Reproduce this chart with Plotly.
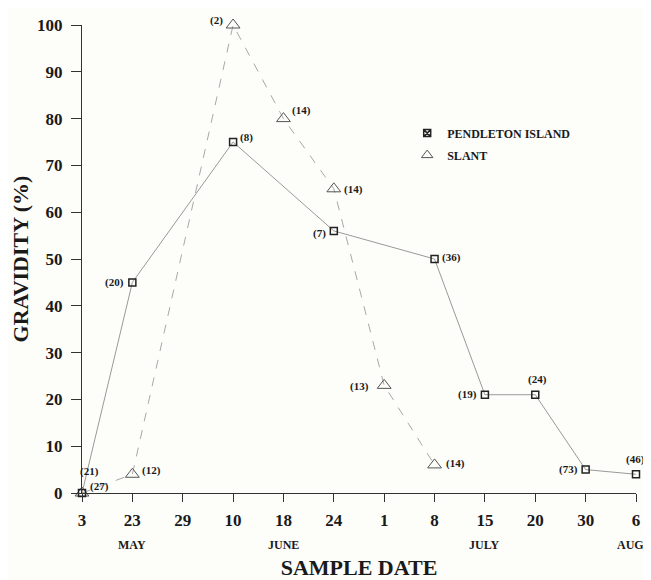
import plotly.graph_objects as go

# ---- data ----
date_labels = ["3", "23", "29", "10", "18", "24", "1", "8", "15", "20", "30", "6"]
month_labels = ["MAY", "JUNE", "JULY", "AUG."]
month_at = ["23", "18", "15", "6"]

pend_dates = ["3", "23", "10", "24", "8", "15", "20", "30", "6"]
pend_values = [0, 45, 75, 56, 50, 21, 21, 5, 4]
pend_counts = [21, 20, 8, 7, 36, 19, 24, 73, 46]

slant_dates = ["3", "23", "10", "18", "24", "1", "8"]
slant_values = [0, 4, 100, 80, 65, 23, 6]
slant_counts = [27, 12, 2, 14, 14, 13, 14]

y_ticks = [0, 10, 20, 30, 40, 50, 60, 70, 80, 90, 100]

# ---- style / layout helpers ----
pos = {d: i for i, d in enumerate(date_labels)}
SERIF = "Liberation Serif, Times New Roman, serif"
INK = "#1a1a1a"

# label offsets (px) for sample-size annotations: (xshift, yshift, xanchor)
pend_lab = [(7, 22, "center"), (-6, 0, "right"), (5, 5, "left"), (-6, -3, "right"),
            (5, 2, "left"), (-6, 0, "right"), (2, 15, "center"), (-6, 0, "right"),
            (-1, 15, "center")]
slant_lab = [(6, 7, "left"), (8, 4, "left"), (-8, 5, "right"), (7, 8, "left"),
             (8, -1, "left"), (-13, -1, "right"), (9, 1, "left")]

fig = go.Figure()

fig.add_trace(go.Scatter(
    x=[pos[d] for d in slant_dates], y=slant_values, mode="lines+markers",
    line=dict(color="#a8a8a8", width=1, dash="dash"),
    marker=dict(symbol="triangle-up-open", size=12, color="#555555", line=dict(width=1)),
    showlegend=False, cliponaxis=False))

fig.add_trace(go.Scatter(
    x=[pos[d] for d in pend_dates], y=pend_values, mode="lines+markers",
    line=dict(color="#999999", width=1),
    marker=dict(symbol="square-open", size=7, color="#222222", line=dict(width=1.5)),
    showlegend=False, cliponaxis=False))

# legend entries
fig.add_trace(go.Scatter(x=[None], y=[None], mode="markers", name="PENDLETON ISLAND",
                         legendgroup="p",
                         marker=dict(symbol="square-x-open", size=7, color="#222222",
                                     line=dict(width=1.5))))
fig.add_trace(go.Scatter(x=[None], y=[None], mode="markers", name="SLANT",
                         legendgroup="s",
                         marker=dict(symbol="triangle-up-open", size=10, color="#555555",
                                     line=dict(width=1))))

ann = []
for d, v, c, (dx, dy, xa) in zip(pend_dates, pend_values, pend_counts, pend_lab):
    ann.append(dict(x=pos[d], y=v, xref="x", yref="y", text=f"({c})", showarrow=False,
                    xshift=dx, yshift=dy, xanchor=xa,
                    font=dict(family=SERIF, size=11, color=INK, weight="bold")))
for d, v, c, (dx, dy, xa) in zip(slant_dates, slant_values, slant_counts, slant_lab):
    ann.append(dict(x=pos[d], y=v, xref="x", yref="y", text=f"({c})", showarrow=False,
                    xshift=dx, yshift=dy, xanchor=xa,
                    font=dict(family=SERIF, size=11, color=INK, weight="bold")))
for m, d in zip(month_labels, month_at):
    ann.append(dict(x=pos[d], y=0, xref="x", yref="paper", text=m, showarrow=False,
                    yshift=-52, yanchor="middle", xshift=-4 if m == "AUG." else 0,
                    font=dict(family=SERIF, size=12, color=INK, weight="bold")))

fig.update_layout(
    width=643, height=572,
    margin=dict(l=74, r=15, t=17, b=87),
    paper_bgcolor="#fdfdfa", plot_bgcolor="#fdfdfa",
    annotations=ann,
    legend=dict(x=0.587, y=0.80, xanchor="left", yanchor="top",
                bgcolor="rgba(0,0,0,0)", tracegroupgap=3, itemwidth=30,
                font=dict(family=SERIF, size=12, color=INK, weight="bold")),
    xaxis=dict(range=[0, 11], tickmode="array", tickvals=list(range(len(date_labels))),
               ticktext=date_labels, showgrid=False, zeroline=False, automargin=False,
               showline=True, linecolor="#333333", linewidth=1,
               ticks="outside", ticklen=8, tickcolor="#333333", ticklabelstandoff=4,
               tickfont=dict(family=SERIF, size=17, color=INK, weight="bold"),
               title=dict(text="SAMPLE DATE", standoff=44,
                          font=dict(family=SERIF, size=22, color=INK, weight="bold"))),
    yaxis=dict(range=[0, 100], tickvals=y_ticks, showgrid=False, zeroline=False,
               automargin=False,
               showline=True, linecolor="#333333", linewidth=1,
               ticks="outside", ticklen=10, tickcolor="#333333", ticklabelstandoff=5,
               tickfont=dict(family=SERIF, size=17, color=INK, weight="bold"),
               title=dict(text="GRAVIDITY (%)", standoff=8,
                          font=dict(family=SERIF, size=22, color=INK, weight="bold"))),
)

fig.write_html("out.html")
